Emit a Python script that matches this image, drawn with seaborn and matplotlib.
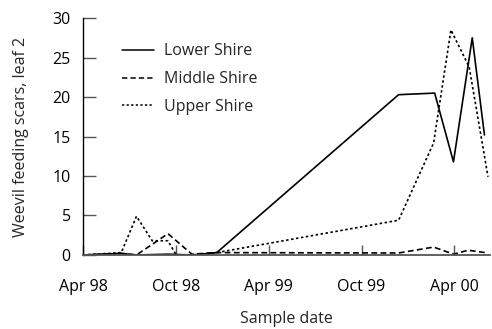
import matplotlib
matplotlib.use("Agg")
import matplotlib.pyplot as plt
import seaborn as sns
import pandas as pd

lower_dates = ["1998-04-01", "1998-06-15", "1998-07-15", "1998-09-15", "1998-11-01",
               "1998-12-20", "1999-12-13", "2000-02-22", "2000-03-30", "2000-05-06", "2000-05-30"]
lower_vals = [0, 0.2, 0, 0.1, 0, 0.3, 20.3, 20.5, 11.8, 27.5, 15.2]

middle_dates = ["1998-04-01", "1998-06-15", "1998-07-15", "1998-09-15", "1998-11-01",
                "1998-12-20", "1999-12-13", "2000-02-20", "2000-03-30", "2000-04-28", "2000-06-06"]
middle_vals = [0, 0.2, 0, 2.7, 0.1, 0.3, 0.25, 1.0, 0.1, 0.6, 0.25]

upper_dates = ["1998-04-01", "1998-06-15", "1998-07-15", "1998-08-15", "1998-09-15",
               "1998-10-01", "1998-11-01", "1998-12-20", "1999-12-13", "2000-02-20",
               "2000-03-25", "2000-04-30", "2000-06-06"]
upper_vals = [0, 0.3, 4.9, 1.8, 1.8, 0, 0, 0.3, 4.4, 14.2, 28.5, 23.8, 9.9]

sites = ["Lower Shire", "Middle Shire", "Upper Shire"]
y_ticks = [0, 5, 10, 15, 20, 25, 30]
x_tick_dates = ["1998-04-01", "1998-10-01", "1999-04-01", "1999-10-01", "2000-04-01"]
x_tick_labels = ["Apr 98", "Oct 98", "Apr 99", "Oct 99", "Apr 00"]

frames = []
for name, d, v in zip(sites, [lower_dates, middle_dates, upper_dates],
                      [lower_vals, middle_vals, upper_vals]):
    frames.append(pd.DataFrame({"date": pd.to_datetime(d), "value": v, "site": name}))
df = pd.concat(frames, ignore_index=True)

sns.set_style("ticks")
plt.rcParams["font.family"] = ["Open Sans", "DejaVu Sans"]

fig = plt.figure(figsize=(4.92, 3.29), dpi=100)
ax = fig.add_axes([0.169, 0.225, 0.827, 0.72])

dashes = {"Lower Shire": "", "Middle Shire": (3.5, 2), "Upper Shire": (1.5, 1.5)}
sns.lineplot(data=df, x="date", y="value", style="site", dashes=dashes,
             color="black", linewidth=1.2, ax=ax, sort=False, estimator=None)

ax.set_xlim(pd.Timestamp("1998-04-01"), pd.Timestamp("2000-06-10"))
ax.set_ylim(0, 30)
ax.set_yticks(y_ticks)
ax.set_xticks(pd.to_datetime(x_tick_dates))
ax.set_xticklabels(x_tick_labels)
ax.tick_params(axis="both", direction="in", width=1, labelsize=11.5, colors="#555555",
               labelcolor="black")
ax.tick_params(axis="x", pad=17, length=7)
ax.tick_params(axis="y", pad=9, length=9)
for s in ["top", "right"]:
    ax.spines[s].set_visible(False)
ax.spines["left"].set_color("black")
ax.spines["bottom"].set_color("#555555")
ax.spines["left"].set_linewidth(1)
ax.spines["bottom"].set_linewidth(1.3)

ax.set_xlabel("Sample date", fontsize=11.5, labelpad=12)
ax.set_ylabel("Weevil feeding scars, leaf 2", fontsize=11.5, labelpad=17)

leg = ax.legend(loc="upper left", bbox_to_anchor=(0.06, 0.955), frameon=False, fontsize=11.5,
                labelspacing=0.75, handlelength=2.0, handletextpad=0.65, title=None)
for line in leg.get_lines():
    line.set_linewidth(1.1)

fig.savefig("out.png", dpi=100)
